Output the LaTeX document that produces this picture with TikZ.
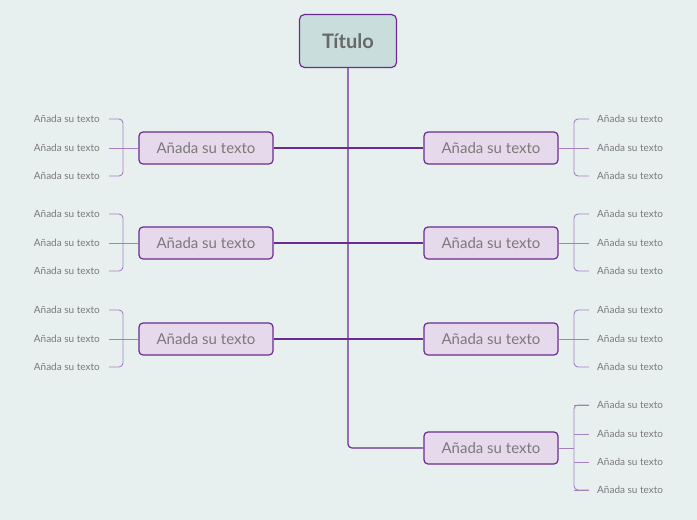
\documentclass[tikz,border=0pt]{standalone}
\usepackage{fontspec}
\setmainfont{Lato}
\definecolor{bg}{HTML}{E8F0EF}
\definecolor{tfill}{HTML}{C9DEDC}
\definecolor{pur}{HTML}{6A2C91}
\definecolor{lpur}{HTML}{A57FC0}
\definecolor{nfill}{HTML}{E6D9EC}
\definecolor{txt}{HTML}{7A7A7A}
\begin{document}
\begin{tikzpicture}[x=1pt,y=-1pt,
  titlebox/.style={draw=pur,line width=1.2pt,fill=tfill,rounded corners=5pt,minimum width=97pt,minimum height=53pt,font=\fontsize{20}{24}\selectfont\bfseries,text=txt!85!black},
  mainbox/.style={draw=pur,line width=1.2pt,fill=nfill,rounded corners=4pt,minimum width=134pt,minimum height=32pt,font=\fontsize{15}{18}\selectfont,text=txt},
  leaf/.style={font=\fontsize{10}{12}\selectfont,text=txt,inner sep=1pt},
  trunk/.style={draw=pur,line width=1.2pt,rounded corners=4pt},
  twig/.style={draw=lpur,line width=0.9pt,rounded corners=4pt}]
\fill[bg] (0,0) rectangle (697,520);
\node[titlebox] (T) at (348,41) {Título};
\foreach \n/\y in {L1/148,L2/243,L3/339}{
  \node[mainbox] (\n) at (206,\y) {Añada su texto};
  \draw[trunk] (\n.east) -- (348,\y);
  \foreach \k/\d in {a/-29,b/0,c/28}{
    \node[leaf,anchor=east] (\n\k) at (101,\y+\d) {Añada su texto};
  }
  \draw[twig] (\n a.east)++(8,0) -- (123,\y-29) -- (123,\y+28) -- (109,\y+28);
  \draw[twig] (\n b.east)++(8,0) -- (\n.west);
}
\foreach \n/\y in {R1/148,R2/243,R3/339}{
  \node[mainbox] (\n) at (491,\y) {Añada su texto};
  \draw[trunk] (348,\y) -- (\n.west);
  \foreach \k/\d in {a/-29,b/0,c/28}{
    \node[leaf,anchor=west] (\n\k) at (596,\y+\d) {Añada su texto};
  }
  \draw[twig] (589,\y-29) -- (574,\y-29) -- (574,\y+28) -- (589,\y+28);
  \draw[twig] (\n.east) -- (589,\y);
}
\node[mainbox] (R4) at (491,448) {Añada su texto};
\foreach \k/\yy in {a/405,b/434,c/462,d/490}{
  \node[leaf,anchor=west] (R4\k) at (596,\yy) {Añada su texto};
  \draw[twig] (589,\yy) -- (574,\yy);
}
\draw[twig] (589,405) -- (574,405) -- (574,490) -- (589,490);
\draw[twig] (R4.east) -- (574,448);
\draw[trunk] (T.south) -- (348,448) -- (R4.west);
\end{tikzpicture}
\end{document}
